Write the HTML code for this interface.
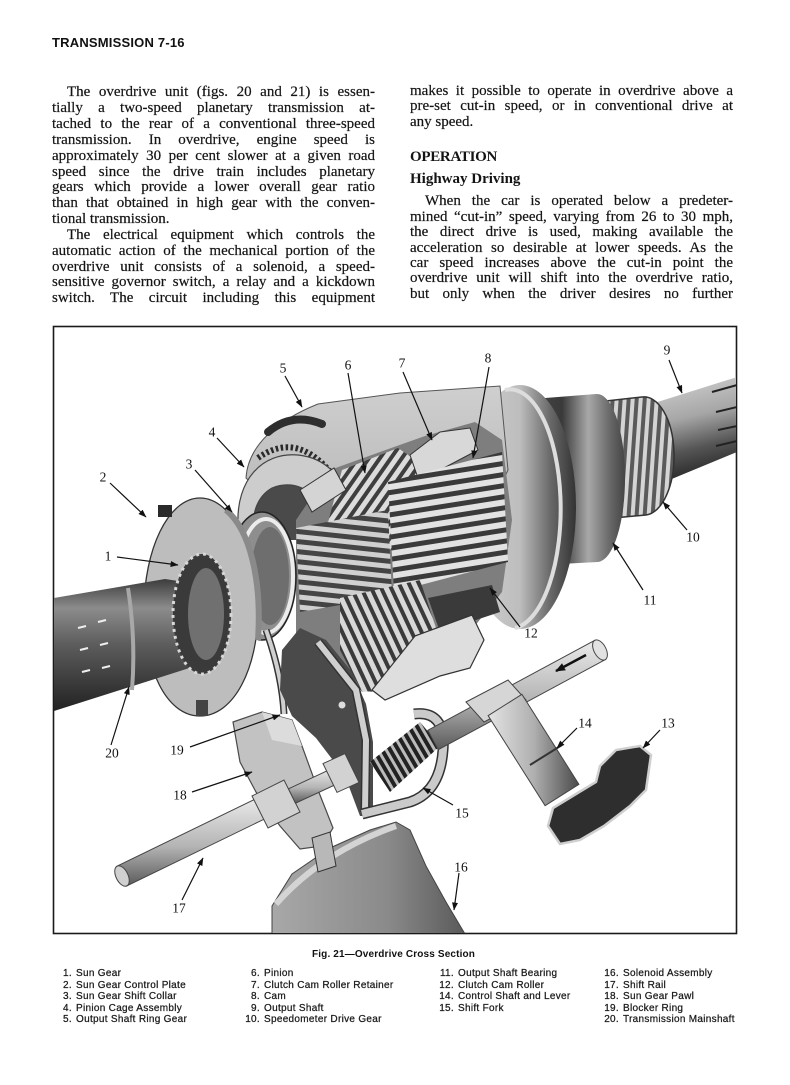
<!DOCTYPE html>
<html>
<head>
<meta charset="utf-8">
<style>
html,body{margin:0;padding:0;background:#fff;}
body{width:790px;height:1085px;position:relative;overflow:hidden;font-family:"Liberation Serif",serif;color:#141414;}
.hdr{position:absolute;left:52px;top:35px;font-family:"Liberation Sans",sans-serif;font-weight:bold;font-size:13px;line-height:15px;letter-spacing:0.2px;color:#111;white-space:nowrap;}
.col{position:absolute;width:323px;font-size:15px;-webkit-text-stroke:0.2px #141414;}
.col .l{text-align:justify;text-align-last:justify;}
.col .ind{padding-left:15px;}
.col .last{text-align:left;text-align-last:left;}
.lc .l{height:15.85px;line-height:15.85px;}
.rc1 .l{height:15.5px;line-height:15.5px;}
.rc2 .l{height:15.45px;line-height:15.45px;}
.h1{position:absolute;left:410px;top:147.6px;font-weight:bold;font-size:15px;line-height:18px;letter-spacing:-0.3px;white-space:nowrap;}
.h2{position:absolute;left:410px;top:170px;font-weight:bold;font-size:15px;line-height:18px;white-space:nowrap;}
svg{position:absolute;left:0;top:0;}
.cap{position:absolute;left:312px;top:949px;font-family:"Liberation Sans",sans-serif;font-weight:bold;font-size:10px;line-height:11px;letter-spacing:0.15px;white-space:nowrap;color:#111;}
.leg{position:absolute;top:968.4px;font-family:"Liberation Sans",sans-serif;font-size:10px;line-height:11.5px;letter-spacing:0.3px;color:#1a1a1a;white-space:nowrap;-webkit-text-stroke:0.25px #1a1a1a;}
.leg div{height:11.5px;position:relative;}
.leg .n{position:absolute;left:0;width:16px;text-align:right;}
.leg .t{position:absolute;left:20px;}
</style>
</head>
<body>
<div class="hdr">TRANSMISSION 7-16</div>

<div class="col lc" style="left:52px;top:85.3px;">
<div class="l ind">The overdrive unit (figs. 20 and 21) is essen-</div>
<div class="l">tially a two-speed planetary transmission at-</div>
<div class="l">tached to the rear of a conventional three-speed</div>
<div class="l">transmission. In overdrive, engine speed is</div>
<div class="l">approximately 30 per cent slower at a given road</div>
<div class="l">speed since the drive train includes planetary</div>
<div class="l">gears which provide a lower overall gear ratio</div>
<div class="l">than that obtained in high gear with the conven-</div>
<div class="l last">tional transmission.</div>
<div class="l ind">The electrical equipment which controls the</div>
<div class="l">automatic action of the mechanical portion of the</div>
<div class="l">overdrive unit consists of a solenoid, a speed-</div>
<div class="l">sensitive governor switch, a relay and a kickdown</div>
<div class="l">switch. The circuit including this equipment</div>
</div>

<div class="col rc1" style="left:410px;top:83.7px;">
<div class="l">makes it possible to operate in overdrive above a</div>
<div class="l">pre-set cut-in speed, or in conventional drive at</div>
<div class="l last">any speed.</div>
</div>
<div class="h1">OPERATION</div>
<div class="h2">Highway Driving</div>
<div class="col rc2" style="left:410px;top:194.3px;">
<div class="l ind">When the car is operated below a predeter-</div>
<div class="l">mined “cut-in” speed, varying from 26 to 30 mph,</div>
<div class="l">the direct drive is used, making available the</div>
<div class="l">acceleration so desirable at lower speeds. As the</div>
<div class="l">car speed increases above the cut-in point the</div>
<div class="l">overdrive unit will shift into the overdrive ratio,</div>
<div class="l">but only when the driver desires no further</div>
</div>

<svg width="790" height="1085" viewBox="0 0 790 1085">
<defs>
<clipPath id="cpBox"><rect x="54" y="327" width="682" height="606"/></clipPath>
<linearGradient id="g9" x1="0" y1="0" x2="0.2" y2="1"><stop offset="0" stop-color="#d6d6d6"/><stop offset=".45" stop-color="#a6a6a6"/><stop offset=".75" stop-color="#555"/><stop offset="1" stop-color="#2a2a2a"/></linearGradient>
<linearGradient id="gBell" x1="0" y1="0" x2="1" y2="0"><stop offset="0" stop-color="#d2d2d2"/><stop offset=".5" stop-color="#bdbdbd"/><stop offset=".78" stop-color="#666"/><stop offset="1" stop-color="#333"/></linearGradient>
<linearGradient id="gBear" x1="0" y1="0" x2="1" y2="0"><stop offset="0" stop-color="#4a4a4a"/><stop offset=".4" stop-color="#3a3a3a"/><stop offset=".65" stop-color="#a8a8a8"/><stop offset=".85" stop-color="#6a6a6a"/><stop offset="1" stop-color="#444"/></linearGradient>
<linearGradient id="gMain" x1="0" y1="0" x2="0" y2="1"><stop offset="0" stop-color="#3c3c3c"/><stop offset=".22" stop-color="#8c8c8c"/><stop offset=".5" stop-color="#5c5c5c"/><stop offset=".85" stop-color="#333"/><stop offset="1" stop-color="#222"/></linearGradient>
<linearGradient id="gRod" x1="0" y1="0" x2="0" y2="1"><stop offset="0" stop-color="#eaeaea"/><stop offset=".55" stop-color="#b4b4b4"/><stop offset="1" stop-color="#5a5a5a"/></linearGradient>
<linearGradient id="gLev" x1="0" y1="0" x2="1" y2="0"><stop offset="0" stop-color="#e4e4e4"/><stop offset=".5" stop-color="#b0b0b0"/><stop offset="1" stop-color="#4a4a4a"/></linearGradient>
<linearGradient id="gSol" x1="0" y1="0" x2="1" y2="0"><stop offset="0" stop-color="#a8a8a8"/><stop offset=".6" stop-color="#8a8a8a"/><stop offset="1" stop-color="#5a5a5a"/></linearGradient>
<linearGradient id="gHous" x1="0" y1="0" x2="0" y2="1"><stop offset="0" stop-color="#cfcfcf"/><stop offset="1" stop-color="#b5b5b5"/></linearGradient>
<pattern id="pThr" width="8" height="10" patternUnits="userSpaceOnUse" patternTransform="rotate(4)"><rect width="8" height="10" fill="#5a5a5a"/><rect x="1" width="4" height="10" fill="#d4d4d4"/></pattern>
<pattern id="pPin" width="9" height="10" patternUnits="userSpaceOnUse" patternTransform="rotate(35)"><rect width="9" height="10" fill="#3e3e3e"/><rect width="5" height="10" fill="#dcdcdc"/></pattern>
<pattern id="pSpl" width="10" height="11" patternUnits="userSpaceOnUse" patternTransform="rotate(-9)"><rect width="10" height="11" fill="#3a3a3a"/><rect width="10" height="6" fill="#e2e2e2"/></pattern>
<pattern id="pSun" width="10" height="10" patternUnits="userSpaceOnUse" patternTransform="rotate(6)"><rect width="10" height="10" fill="#444"/><rect width="10" height="5" fill="#d0d0d0"/></pattern>
<pattern id="pPin2" width="9" height="10" patternUnits="userSpaceOnUse" patternTransform="rotate(-25)"><rect width="9" height="10" fill="#3a3a3a"/><rect width="5" height="10" fill="#d8d8d8"/></pattern>
<pattern id="pCoil" width="7" height="10" patternUnits="userSpaceOnUse" patternTransform="rotate(-30)"><rect width="7" height="10" fill="#222"/><rect width="3" height="10" fill="#bbb"/></pattern>
<marker id="ah" markerWidth="8" markerHeight="6" refX="7.5" refY="3" orient="auto" markerUnits="userSpaceOnUse"><path d="M0,0 L8,3 L0,6 Z" fill="#111"/></marker>
<marker id="ah2" markerWidth="10" markerHeight="8" refX="9" refY="4" orient="auto" markerUnits="userSpaceOnUse"><path d="M0,0 L10,4 L0,8 Z" fill="#111"/></marker>
</defs>

<rect x="53.5" y="326.5" width="683" height="607" fill="#fff" stroke="#1a1a1a" stroke-width="1.6"/>

<g clip-path="url(#cpBox)">
<polygon points="648,405 737,377 737,452 662,483" fill="url(#g9)"/>
<path d="M712,392 L737,385 M716,412 L737,407 M718,430 L737,426 M716,446 L737,441" stroke="#222" stroke-width="2"/>
<path d="M588,403 L642,397 A30,59 0 0 1 646,515 L592,520 Z" fill="url(#pThr)" stroke="#333" stroke-width="1.5"/>
<path d="M520,400 L596,394 A28,84 0 0 1 598,562 L522,566 Z" fill="url(#gBear)"/>
<g fill="#e6e6e6" stroke="#111" stroke-width="1">
<circle cx="548" cy="420" r="3.5"/><circle cx="552" cy="440" r="3.5"/><circle cx="555" cy="460" r="3.5"/><circle cx="556" cy="480" r="3.5"/><circle cx="555" cy="500" r="3.5"/><circle cx="552" cy="520" r="3.5"/><circle cx="548" cy="540" r="3.5"/>
</g>
<ellipse cx="520" cy="507" rx="56" ry="122" fill="url(#gBell)"/>
<path d="M505,390 A50,118 0 0 1 515,628" fill="none" stroke="#ddd" stroke-width="4"/>
<path d="M246,478 C248,445 278,420 318,404 L400,393 L500,386 L508,470 L482,525 L300,528 Z" fill="url(#gHous)" stroke="#555" stroke-width="1"/>
<path d="M268,432 Q292,412 322,424" fill="none" stroke="#2e2e2e" stroke-width="8" stroke-linecap="round"/>
<path d="M258,458 Q300,428 338,482" fill="none" stroke="#2a2a2a" stroke-width="6" stroke-dasharray="2.5 2.5"/>
<path d="M254,528 C252,512 258,496 272,488 C292,480 312,488 322,508 L300,540 L256,540 Z" fill="#4a4a4a"/>
<path d="M238,525 C236,480 262,452 298,455 C326,458 344,478 346,500 L322,508 C312,488 292,480 272,488 C258,496 252,512 254,528 Z" fill="#cdcdcd" stroke="#444" stroke-width="1.2"/>
<path d="M296,520 L330,470 L380,452 L425,436 L475,422 L502,440 L512,520 L502,592 L470,632 L420,662 L372,692 L322,682 L296,640 Z" fill="#7e7e7e"/>
<polygon points="322,545 342,470 398,448 430,470 414,540 364,562" fill="url(#pPin)"/>
<polygon points="300,490 334,468 346,490 312,512" fill="#d4d4d4" stroke="#333"/>
<polygon points="410,455 440,432 470,428 478,450 440,470 418,478" fill="#d8d8d8" stroke="#333"/>
<polygon points="388,482 502,452 508,562 394,592" fill="url(#pSpl)"/>
<polygon points="296,528 388,510 392,596 300,612" fill="url(#pSun)"/>
<polygon points="340,598 420,580 440,640 410,688 362,692 340,650" fill="url(#pPin2)"/>
<polygon points="428,598 492,585 500,612 440,632" fill="#3a3a3a"/>
<path d="M415,636 L472,615 L484,640 L470,668 L440,676 L385,700 L372,690 Z" fill="#dedede" stroke="#333" stroke-width="1.2"/>
<ellipse cx="262" cy="576" rx="34" ry="64" fill="#8e8e8e" stroke="#222" stroke-width="1.5"/>
<ellipse cx="266" cy="576" rx="27" ry="57" fill="none" stroke="#ececec" stroke-width="4"/>
<ellipse cx="270" cy="576" rx="19" ry="49" fill="#6e6e6e"/>
<path d="M200,498 C232,498 258,550 258,610 C258,668 234,716 200,716 C166,716 144,668 144,610 C144,550 168,498 200,498 Z" fill="#bdbdbd" stroke="#333" stroke-width="1.3"/>
<path d="M226,510 C250,530 262,580 258,640" fill="none" stroke="#8a8a8a" stroke-width="6"/>
<rect x="158" y="505" width="14" height="12" fill="#2a2a2a"/>
<rect x="143" y="590" width="8" height="14" fill="#fff"/>
<rect x="196" y="700" width="12" height="16" fill="#444"/>
<polygon points="54,598 165,579 198,584 202,664 54,711" fill="url(#gMain)"/>
<path d="M128,588 Q136,640 132,690" stroke="#a8a8a8" stroke-width="4" fill="none"/>
<path d="M78,628 l8,-2 M80,650 l8,-2 M82,672 l8,-2 M98,622 l8,-2 M100,645 l8,-2 M102,668 l8,-2" stroke="#eee" stroke-width="2"/>
<ellipse cx="202" cy="614" rx="29" ry="60" fill="#3a3a3a"/>
<ellipse cx="202" cy="614" rx="29" ry="60" fill="none" stroke="#d8d8d8" stroke-width="3" stroke-dasharray="3 4"/>
<ellipse cx="206" cy="614" rx="18" ry="46" fill="#707070"/>
<path d="M266,630 Q282,675 284,714" fill="none" stroke="#333" stroke-width="7"/>
<path d="M266,630 Q282,675 284,714" fill="none" stroke="#d0d0d0" stroke-width="4"/>
<path d="M282,650 L300,628 L326,640 L352,672 L366,704 L373,742 L373,816 L360,816 L345,776 L316,738 L292,716 L280,690 Z" fill="#4a4a4a"/>
<path d="M318,642 L356,690 L366,740 L365,812" fill="none" stroke="#333" stroke-width="9"/>
<path d="M318,642 L356,690 L366,740 L365,812" fill="none" stroke="#cfcfcf" stroke-width="6"/>
<circle cx="342" cy="705" r="3.5" fill="#ddd"/>
<path d="M233,722 L262,712 L292,720 L302,746 L318,790 L333,828 L322,846 L300,849 L280,826 L256,792 L240,762 Z" fill="#c2c2c2" stroke="#4a4a4a" stroke-width="1.2"/>
<path d="M262,712 L292,720 L302,746 L272,740 Z" fill="#dcdcdc"/>
<path d="M272,934 L272,906 L292,874 L330,848 L370,830 L396,822 L410,830 L426,866 L446,902 L465,934 Z" fill="url(#gSol)" stroke="#444" stroke-width="1"/>
<path d="M276,904 Q322,852 396,826" fill="none" stroke="#d4d4d4" stroke-width="6"/>
<polygon points="312,838 330,832 336,866 318,872" fill="#b8b8b8" stroke="#333"/>
<polygon points="117.2,866.1 257.2,798.1 266.8,817.9 126.8,885.9" fill="url(#gRod)" stroke="#444" stroke-width="1"/>
<ellipse cx="122" cy="876" rx="6" ry="11" transform="rotate(-26 122 876)" fill="#d0d0d0" stroke="#444"/>
<polygon points="252,796 284,780 300,812 268,828" fill="#d2d2d2" stroke="#444"/>
<polygon points="288.5,788.8 331.5,768.8 338.5,783.2 295.5,803.2" fill="url(#gRod)" stroke="#444"/>
<polygon points="323,763.6 345,753.6 359,782.4 337,792.4" fill="#d2d2d2" stroke="#444"/>
<polygon points="370,762 420,722 440,746 390,792" fill="url(#pCoil)"/>
<path d="M414,714 Q446,710 443,750 Q440,792 410,802 L362,814" fill="none" stroke="#333" stroke-width="11"/>
<path d="M414,714 Q446,710 443,750 Q440,792 410,802 L362,814" fill="none" stroke="#cacaca" stroke-width="8"/>
<polygon points="427.8,730.3 594.8,640.3 605.2,659.7 438.2,749.7" fill="url(#gRod)" stroke="#444"/>
<ellipse cx="600" cy="650" rx="6" ry="11" transform="rotate(-28 600 650)" fill="#e2e2e2" stroke="#444"/>
<line x1="586" y1="655" x2="556" y2="671" stroke="#111" stroke-width="2.5" marker-end="url(#ah2)"/>
<polygon points="466,702 508,680 526,700 484,722" fill="#d6d6d6" stroke="#444"/>
<polygon points="488.1,715.7 521.9,694.3 578.9,784.3 545.1,805.7" fill="url(#gLev)" stroke="#444"/>
<path d="M530,765 L562,745" stroke="#333" stroke-width="2"/>
<path d="M548,826 L553,808 L576,794 L596,782 L600,766 L616,750 L640,746 L651,755 L646,790 L630,806 L604,826 L580,840 L560,844 Z" fill="#2e2e2e" stroke="#cfcfcf" stroke-width="2.5"/>
</g>

<g stroke="#111" stroke-width="1.2" fill="none" marker-end="url(#ah)">
<line x1="285" y1="376" x2="302" y2="407"/>
<line x1="348" y1="373" x2="365" y2="473"/>
<line x1="403" y1="372" x2="432" y2="440"/>
<line x1="489" y1="367" x2="473" y2="458"/>
<line x1="669" y1="360" x2="682" y2="393"/>
<line x1="217" y1="438" x2="244" y2="467"/>
<line x1="195" y1="470" x2="232" y2="512"/>
<line x1="110" y1="483" x2="146" y2="517"/>
<line x1="117" y1="557" x2="178" y2="565"/>
<line x1="687" y1="530" x2="663" y2="502"/>
<line x1="643" y1="590" x2="613" y2="543"/>
<line x1="520" y1="627" x2="490" y2="588"/>
<line x1="577" y1="728" x2="557" y2="748"/>
<line x1="660" y1="730" x2="643" y2="748"/>
<line x1="453" y1="805" x2="423" y2="788"/>
<line x1="459" y1="873" x2="454" y2="910"/>
<line x1="111" y1="745" x2="129" y2="687"/>
<line x1="190" y1="747" x2="280" y2="715"/>
<line x1="192" y1="792" x2="252" y2="772"/>
<line x1="182" y1="900" x2="203" y2="858"/>
</g>
<g font-family="Liberation Serif, serif" font-size="13.5" fill="#111" text-anchor="middle">
<text x="283" y="372.6">5</text>
<text x="348" y="369.6">6</text>
<text x="402" y="367.6">7</text>
<text x="488" y="362.6">8</text>
<text x="667" y="354.6">9</text>
<text x="212" y="436.6">4</text>
<text x="189" y="468.6">3</text>
<text x="103" y="481.6">2</text>
<text x="108" y="560.6">1</text>
<text x="693" y="541.6">10</text>
<text x="650" y="604.6">11</text>
<text x="531" y="637.6">12</text>
<text x="585" y="727.6">14</text>
<text x="668" y="727.6">13</text>
<text x="462" y="817.6">15</text>
<text x="461" y="871.6">16</text>
<text x="112" y="757.6">20</text>
<text x="177" y="754.6">19</text>
<text x="180" y="799.6">18</text>
<text x="179" y="912.6">17</text>
</g>
</svg>

<div class="cap">Fig. 21—Overdrive Cross Section</div>

<div class="leg" style="left:56px;">
<div><span class="n">1.</span><span class="t">Sun Gear</span></div>
<div><span class="n">2.</span><span class="t">Sun Gear Control Plate</span></div>
<div><span class="n">3.</span><span class="t">Sun Gear Shift Collar</span></div>
<div><span class="n">4.</span><span class="t">Pinion Cage Assembly</span></div>
<div><span class="n">5.</span><span class="t">Output Shaft Ring Gear</span></div>
</div>
<div class="leg" style="left:244px;">
<div><span class="n">6.</span><span class="t">Pinion</span></div>
<div><span class="n">7.</span><span class="t">Clutch Cam Roller Retainer</span></div>
<div><span class="n">8.</span><span class="t">Cam</span></div>
<div><span class="n">9.</span><span class="t">Output Shaft</span></div>
<div><span class="n">10.</span><span class="t">Speedometer Drive Gear</span></div>
</div>
<div class="leg" style="left:438px;">
<div><span class="n">11.</span><span class="t">Output Shaft Bearing</span></div>
<div><span class="n">12.</span><span class="t">Clutch Cam Roller</span></div>
<div><span class="n">14.</span><span class="t">Control Shaft and Lever</span></div>
<div><span class="n">15.</span><span class="t">Shift Fork</span></div>
</div>
<div class="leg" style="left:603px;">
<div><span class="n">16.</span><span class="t">Solenoid Assembly</span></div>
<div><span class="n">17.</span><span class="t">Shift Rail</span></div>
<div><span class="n">18.</span><span class="t">Sun Gear Pawl</span></div>
<div><span class="n">19.</span><span class="t">Blocker Ring</span></div>
<div><span class="n">20.</span><span class="t">Transmission Mainshaft</span></div>
</div>
</body>
</html>
